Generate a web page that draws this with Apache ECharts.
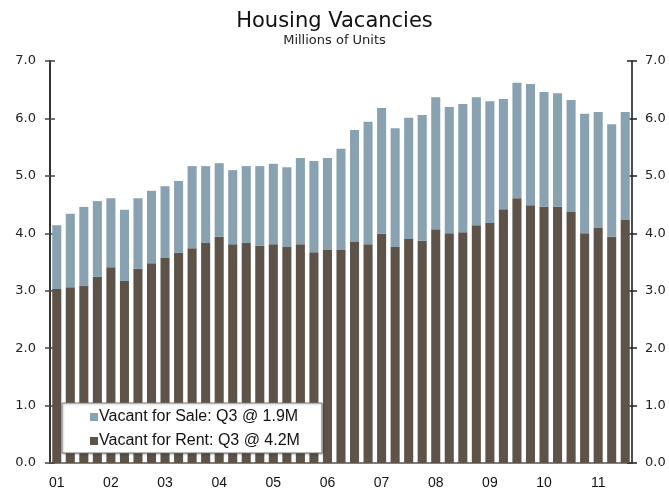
<!DOCTYPE html>
<html>
<head>
<meta charset="utf-8">
<script src="https://cdn.jsdelivr.net/npm/echarts@6/dist/echarts.min.js"></script>
<style>
  html, body { margin: 0; padding: 0; background: #fff; }
  #chart { width: 669px; height: 493px; }
</style>
</head>
<body>
<div id="chart"></div>
<script>
// quarterly, 2001 Q1 .. 2011 Q3
const years = ['01', '02', '03', '04', '05', '06', '07', '08', '09', '10', '11'];
const quarters = ['Q1', 'Q2', 'Q3', 'Q4'];
const rentVacant = [
  3.03, 3.06, 3.08, 3.24, 3.41, 3.17, 3.38, 3.48, 3.57, 3.66,
  3.74, 3.83, 3.94, 3.81, 3.83, 3.78, 3.81, 3.76, 3.81, 3.67,
  3.71, 3.71, 3.85, 3.81, 3.99, 3.76, 3.90, 3.87, 4.07, 4.00,
  4.02, 4.14, 4.18, 4.42, 4.61, 4.49, 4.46, 4.46, 4.37, 4.00,
  4.09, 3.94, 4.23
];
const saleVacant = [
  1.11, 1.28, 1.38, 1.32, 1.20, 1.24, 1.23, 1.26, 1.25, 1.25,
  1.43, 1.34, 1.28, 1.29, 1.34, 1.39, 1.40, 1.39, 1.50, 1.59,
  1.60, 1.76, 1.95, 2.13, 2.19, 2.07, 2.11, 2.19, 2.30, 2.20,
  2.23, 2.23, 2.12, 1.92, 2.01, 2.11, 2.00, 1.98, 1.95, 2.08,
  2.02, 1.96, 1.88
];
const yTicks = [0, 1, 2, 3, 4, 5, 6, 7];

const categories = [];
years.forEach(y => quarters.forEach(q => categories.push(y + ' ' + q)));
categories.length = rentVacant.length;

const chart = echarts.init(document.getElementById('chart'));

const yBase = {
  type: 'value', min: yTicks[0], max: yTicks[yTicks.length - 1], interval: 1,
  splitLine: { show: false }
};

chart.setOption({
  animation: false,
  title: {
    text: 'Housing Vacancies',
    subtext: 'Millions of Units',
    left: 'center',
    top: 6,
    itemGap: 2,
    textStyle: { fontFamily: 'DejaVu Sans', fontSize: 21, fontWeight: 'normal', color: '#111' },
    subtextStyle: { fontFamily: 'DejaVu Sans', fontSize: 13, color: '#222' }
  },
  legend: {
    orient: 'vertical',
    left: 62,
    top: 403,
    padding: [6, 22, 4, 28],
    itemGap: 8,
    itemWidth: 8,
    itemHeight: 8,
    backgroundColor: '#fff',
    borderColor: '#777',
    borderWidth: 1,
    shadowColor: 'rgba(0,0,0,0.25)',
    shadowBlur: 2,
    shadowOffsetX: 1,
    shadowOffsetY: 1,
    textStyle: { fontFamily: 'Liberation Sans', fontSize: 16, lineHeight: 16, color: '#111', padding: [0, 0, 0, -4] },
    data: [
      { name: 'Vacant for Sale: Q3 @ 1.9M', icon: 'rect' },
      { name: 'Vacant for Rent: Q3 @ 4.2M', icon: 'rect' }
    ]
  },
  grid: { left: 50, right: 37, top: 61, bottom: 30 },
  xAxis: [
    {
      type: 'category',
      data: categories,
      axisLine: { lineStyle: { color: '#111', width: 1 } },
      axisTick: { interval: 1, length: 4, lineStyle: { color: '#111' } },
      axisLabel: {
        interval: 3,
        formatter: v => v.slice(0, 2),
        fontFamily: 'Liberation Sans', fontSize: 14, color: '#111', margin: 13
      }
    },
    {
      type: 'category',
      data: categories,
      position: 'bottom',
      axisLine: { show: false },
      axisTick: { interval: 3, length: 7, lineStyle: { color: '#111' } },
      axisLabel: { show: false }
    },
    {
      type: 'category',
      data: categories,
      position: 'top',
      axisLine: { lineStyle: { color: '#7f7f7f', width: 2 } },
      axisTick: { show: false },
      axisLabel: { show: false }
    }
  ],
  yAxis: [
    Object.assign({}, yBase, {
      position: 'left',
      axisLine: { show: true, lineStyle: { color: '#333', width: 2 } },
      axisTick: { show: true, length: 5, lineStyle: { color: '#444', width: 1.5 } },
      axisLabel: { formatter: v => v.toFixed(1), fontFamily: 'DejaVu Sans', fontSize: 13, color: '#222', margin: 14 }
    }),
    Object.assign({}, yBase, {
      position: 'right',
      axisLine: { show: true, lineStyle: { color: '#111', width: 1.5 } },
      axisTick: { show: true, length: 5, lineStyle: { color: '#222', width: 1.5 } },
      axisLabel: { formatter: v => v.toFixed(1), fontFamily: 'DejaVu Sans', fontSize: 13, color: '#222', margin: 13 }
    }),
    Object.assign({}, yBase, {
      position: 'left',
      axisLine: { show: false },
      axisTick: { show: true, inside: true, length: 5, lineStyle: { color: '#444', width: 1.5 } },
      axisLabel: { show: false }
    }),
    Object.assign({}, yBase, {
      position: 'right',
      axisLine: { show: false },
      axisTick: { show: true, inside: true, length: 5, lineStyle: { color: '#222', width: 1.5 } },
      axisLabel: { show: false }
    })
  ],
  series: [
    {
      name: 'Vacant for Rent: Q3 @ 4.2M',
      type: 'bar',
      stack: 'v',
      data: rentVacant,
      barCategoryGap: '33%',
      itemStyle: { color: '#5e5348' }
    },
    {
      name: 'Vacant for Sale: Q3 @ 1.9M',
      type: 'bar',
      stack: 'v',
      data: saleVacant,
      barCategoryGap: '33%',
      itemStyle: { color: '#89a2b2' }
    }
  ]
});
</script>
</body>
</html>
